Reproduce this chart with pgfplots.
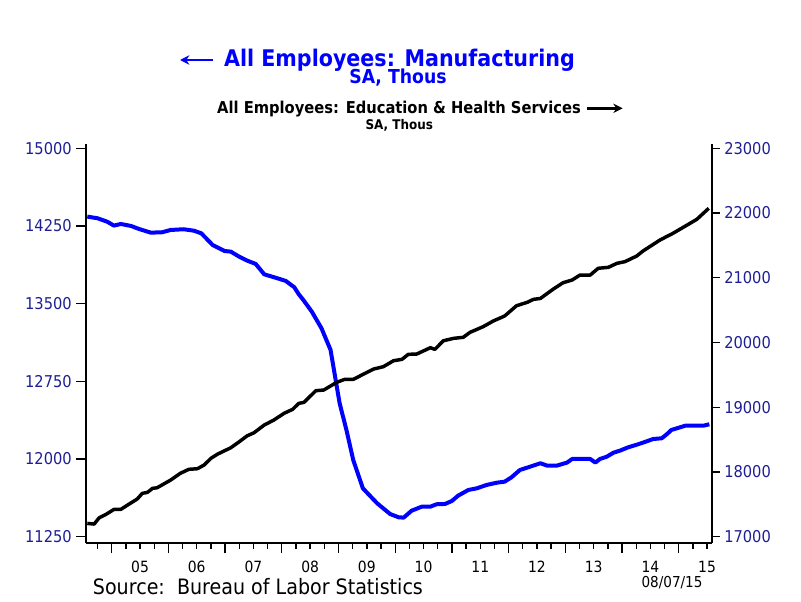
\documentclass[border=0pt]{standalone}
\usepackage{pgfplots}
\usepackage{pgfplotstable}
\pgfplotsset{compat=1.18}
\usepackage{fontspec}
\setmainfont[FakeStretch=0.9]{DejaVu Sans}
\usetikzlibrary{arrows.meta}
\definecolor{ticknavy}{RGB}{30,30,150}
\definecolor{manublue}{RGB}{0,0,255}

% manufacturing, SA thous (left axis)
\pgfplotstableread{
t value
2004.57 14340
2004.75 14324
2004.92 14291
2005.04 14253
2005.16 14269
2005.34 14250
2005.48 14221
2005.69 14185
2005.89 14189
2006.04 14211
2006.27 14218
2006.45 14204
2006.58 14179
2006.78 14066
2006.99 14008
2007.10 14002
2007.25 13953
2007.39 13915
2007.54 13883
2007.69 13783
2007.92 13745
2008.07 13719
2008.22 13658
2008.30 13590
2008.38 13535
2008.53 13422
2008.70 13262
2008.86 13053
2008.94 12795
2009.02 12538
2009.14 12280
2009.26 11990
2009.43 11717
2009.68 11573
2009.91 11469
2010.06 11437
2010.15 11434
2010.29 11501
2010.47 11540
2010.62 11540
2010.73 11563
2010.88 11566
2011.00 11595
2011.11 11646
2011.29 11701
2011.44 11717
2011.61 11749
2011.79 11771
2011.93 11781
2012.05 11823
2012.20 11894
2012.38 11926
2012.56 11959
2012.68 11936
2012.85 11936
2013.03 11965
2013.12 12000
2013.44 12000
2013.53 11965
2013.61 12000
2013.73 12022
2013.85 12061
2013.96 12080
2014.11 12113
2014.26 12138
2014.37 12158
2014.55 12193
2014.70 12200
2014.79 12239
2014.87 12280
2015.12 12322
2015.44 12322
2015.54 12335
}\manu

% education & health services, SA thous (right axis)
\pgfplotstableread{
t value
2004.57 17206
2004.69 17195
2004.78 17293
2004.90 17345
2005.04 17422
2005.16 17422
2005.28 17489
2005.45 17582
2005.54 17670
2005.63 17685
2005.72 17747
2005.80 17756
2006.04 17875
2006.21 17979
2006.36 18041
2006.51 18050
2006.63 18107
2006.75 18211
2006.87 18277
2007.10 18374
2007.25 18467
2007.39 18559
2007.51 18606
2007.69 18725
2007.86 18802
2008.04 18906
2008.19 18967
2008.30 19060
2008.39 19075
2008.60 19255
2008.74 19266
2008.97 19385
2009.11 19431
2009.26 19431
2009.41 19497
2009.62 19590
2009.79 19626
2009.97 19718
2010.12 19740
2010.23 19817
2010.38 19822
2010.62 19919
2010.70 19894
2010.85 20027
2011.03 20064
2011.20 20080
2011.32 20157
2011.55 20244
2011.73 20332
2011.93 20409
2012.14 20568
2012.33 20621
2012.44 20667
2012.56 20680
2012.79 20826
2012.96 20923
2013.12 20965
2013.26 21042
2013.44 21042
2013.58 21146
2013.76 21161
2013.91 21223
2014.05 21248
2014.26 21336
2014.37 21413
2014.67 21583
2014.90 21687
2015.15 21815
2015.32 21903
2015.53 22073
}\edhealth

\pgfplotsset{
  chartbase/.style={
    scale only axis,
    width=469.5pt, height=299.25pt,
    at={(64.5pt,43.5pt)}, anchor=south west,
    xmin=2004.547, xmax=2015.587,
    tick align=outside,
    axis line style={line width=1.4pt, black},
    tick style={line width=1pt, black},
    scaled y ticks=false,
    /pgf/number format/assume math mode=true,
    /pgf/number format/set thousands separator={},
    yticklabel style={text=ticknavy, inner sep=0pt,
      font=\fontsize{12.2pt}{14pt}\selectfont},
    clip=false,
  },
}

\begin{document}
\begin{tikzpicture}
\useasboundingbox (0,0) rectangle (600.75pt,450.75pt);

\begin{axis}[
  chartbase,
  axis y line*=left, axis x line*=bottom,
  ymin=11189, ymax=15041,
  ytick={11250,12000,12750,13500,14250,15000},
  yticklabel style={xshift=-3pt},
  major tick length=7.5pt, minor tick length=4.5pt,
  xtick={2005,2006,2007,2008,2009,2010,2011,2012,2013,2014,2015},
  xticklabels={},
  xticklabel shift=13.5pt,
  xticklabel style={text=black, inner sep=0pt, anchor=north,
    font=\fontsize{11.6pt}{14pt}\selectfont},
  minor xtick={2004.75,2005.25,2005.5,2005.75,2006.25,2006.5,2006.75,2007.25,2007.5,2007.75,2008.25,2008.5,2008.75,2009.25,2009.5,2009.75,2010.25,2010.5,2010.75,2011.25,2011.5,2011.75,2012.25,2012.5,2012.75,2013.25,2013.5,2013.75,2014.25,2014.5,2014.75,2015.25,2015.5},
  extra x ticks={2005.5,2006.5,2007.5,2008.5,2009.5,2010.5,2011.5,2012.5,2013.5,2014.5,2015.5},
  extra x tick labels={05,06,07,08,09,10,11,12,13,14,15},
  extra x tick style={major tick length=0pt, tick style={draw=none},
    xticklabel shift=13.5pt},
]
\addplot[manublue, line width=3pt, line join=round] table[x=t, y=value] {\manu};
\end{axis}

\begin{axis}[
  chartbase,
  axis y line*=right, axis x line=none,
  ymin=16903, ymax=23066,
  ytick={17000,18000,19000,20000,21000,22000,23000},
  yticklabel style={xshift=3pt},
  major tick length=6pt,
]
\addplot[black, line width=2.6pt, line join=round] table[x=t, y=value] {\edhealth};
\end{axis}

% titles
\node[anchor=base, text=manublue, font=\bfseries\fontsize{17.2pt}{20pt}\selectfont, inner sep=0pt]
  at (299.6pt,400.7pt) {All Employees: Manufacturing};
\draw[manublue, line width=2.2pt, -{Stealth[length=7pt,width=7pt]}] (159.75pt,405.75pt) -- (135pt,405.75pt);
\node[anchor=base, text=manublue, font=\bfseries\fontsize{14.4pt}{16pt}\selectfont, inner sep=0pt]
  at (298.5pt,388.0pt) {SA, Thous};
\node[anchor=base, font=\bfseries\fontsize{12.25pt}{14pt}\selectfont, inner sep=0pt]
  at (299.25pt,365.8pt) {All Employees: Education \& Health Services};
\draw[black, line width=2.2pt, -{Stealth[length=7pt,width=7pt]}] (440.25pt,369.5pt) -- (467pt,369.5pt);
\node[anchor=base, font=\bfseries\fontsize{10pt}{12pt}\selectfont, inner sep=0pt]
  at (299.5pt,353.25pt) {SA, Thous};

% footer
\node[anchor=base west, font=\fontsize{15.9pt}{18pt}\selectfont, inner sep=0pt]
  at (69.5pt,5.25pt) {Source:\ \ Bureau of Labor Statistics};
\node[anchor=base west, font=\fontsize{11.3pt}{13pt}\selectfont, inner sep=0pt]
  at (481pt,10.3pt) {08/07/15};
\end{tikzpicture}
\end{document}
